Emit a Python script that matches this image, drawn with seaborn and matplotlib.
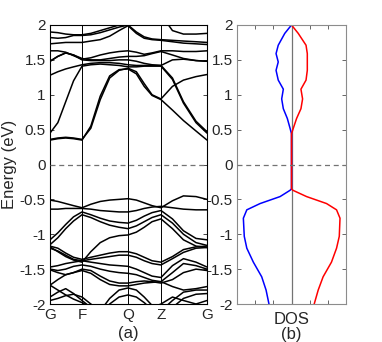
import numpy as np
import pandas as pd
import matplotlib
matplotlib.use("Agg")
import matplotlib.pyplot as plt
import seaborn as sns

# ---- k-path (fraction of path length) ----
k = [0.0, 0.05, 0.10, 0.15, 0.204, 0.26, 0.32, 0.38, 0.44, 0.497,
     0.55, 0.60, 0.65, 0.707, 0.78, 0.85, 0.93, 1.0]
k_nodes = [0.0, 0.204, 0.497, 0.707, 1.0]
k_labels = ["G", "F", "Q", "Z", "G"]

# ---- conduction bands (eV) ----
c1 = [0.35, 0.37, 0.38, 0.37, 0.35, 0.55, 0.98, 1.27, 1.36, 1.37, 1.30, 1.12, 0.99, 0.93, 0.78, 0.63, 0.48, 0.35]
c2 = [0.36, 0.38, 0.39, 0.38, 0.36, 0.52, 0.93, 1.24, 1.35, 1.38, 1.33, 1.16, 1.00, 0.94, 1.12, 1.21, 1.26, 1.29]
c3 = [0.45, 0.60, 0.90, 1.20, 1.41, 1.43, 1.44, 1.43, 1.42, 1.40, 1.40, 1.41, 1.41, 1.41, 1.22, 0.88, 0.60, 0.45]
c4 = [1.28, 1.33, 1.37, 1.40, 1.43, 1.45, 1.46, 1.46, 1.45, 1.43, 1.42, 1.42, 1.42, 1.42, 1.24, 0.90, 0.62, 0.47]
m1 = [1.63, 1.63, 1.61, 1.56, 1.51, 1.53, 1.57, 1.60, 1.62, 1.63, 1.61, 1.58, 1.60, 1.63, 1.63, 1.62, 1.62, 1.63]
m2 = [1.48, 1.55, 1.60, 1.57, 1.52, 1.50, 1.50, 1.52, 1.54, 1.55, 1.55, 1.56, 1.59, 1.62, 1.57, 1.52, 1.49, 1.48]
m3 = [1.48, 1.55, 1.60, 1.57, 1.50, 1.49, 1.49, 1.49, 1.50, 1.50, 1.48, 1.45, 1.43, 1.42, 1.50, 1.51, 1.49, 1.48]
u1 = [1.90, 1.89, 1.87, 1.86, 1.86, 1.88, 1.92, 1.96, 2.00, 2.03, 2.10, 2.20, 2.20, 2.15, 1.92, 1.87, 1.87, 1.88]
u2 = [1.82, 1.81, 1.82, 1.85, 1.85, 1.86, 1.89, 1.93, 1.97, 2.00, 1.90, 1.83, 1.80, 1.79, 1.78, 1.77, 1.76, 1.75]
u3 = [1.73, 1.74, 1.75, 1.75, 1.75, 1.77, 1.79, 1.84, 1.92, 1.99, 1.88, 1.81, 1.79, 1.78, 1.76, 1.74, 1.73, 1.72]

# ---- valence bands (eV) ----
v1 = [-0.51, -0.53, -0.56, -0.59, -0.62, -0.57, -0.53, -0.51, -0.50, -0.49, -0.51, -0.55, -0.59, -0.62, -0.52, -0.45, -0.46, -0.50]
v2 = [-0.64, -0.64, -0.63, -0.63, -0.63, -0.64, -0.66, -0.67, -0.68, -0.68, -0.66, -0.63, -0.61, -0.60, -0.62, -0.64, -0.65, -0.65]
v3 = [-1.08, -0.98, -0.86, -0.75, -0.68, -0.72, -0.77, -0.81, -0.83, -0.84, -0.80, -0.74, -0.69, -0.66, -0.78, -0.95, -1.06, -1.08]
v4 = [-1.15, -1.05, -0.92, -0.81, -0.72, -0.76, -0.82, -0.87, -0.90, -0.92, -0.88, -0.82, -0.76, -0.72, -0.84, -1.00, -1.12, -1.16]
v5 = [-1.18, -1.25, -1.32, -1.37, -1.40, -1.25, -1.12, -1.05, -1.02, -1.01, -0.97, -0.90, -0.82, -0.78, -0.92, -1.08, -1.17, -1.19]
v6 = [-1.17, -1.20, -1.27, -1.33, -1.36, -1.33, -1.30, -1.27, -1.25, -1.25, -1.28, -1.33, -1.38, -1.40, -1.32, -1.22, -1.18, -1.17]
v7 = [-1.20, -1.24, -1.30, -1.36, -1.38, -1.36, -1.34, -1.32, -1.30, -1.30, -1.33, -1.38, -1.42, -1.44, -1.35, -1.26, -1.20, -1.19]
v8 = [-1.47, -1.45, -1.42, -1.40, -1.38, -1.40, -1.42, -1.44, -1.45, -1.46, -1.50, -1.55, -1.60, -1.62, -1.45, -1.35, -1.40, -1.47]
v9 = [-1.50, -1.52, -1.50, -1.46, -1.44, -1.46, -1.50, -1.53, -1.55, -1.56, -1.58, -1.62, -1.66, -1.68, -1.55, -1.42, -1.45, -1.50]
v10 = [-1.51, -1.55, -1.58, -1.55, -1.50, -1.52, -1.60, -1.67, -1.70, -1.70, -1.68, -1.67, -1.68, -1.70, -1.65, -1.55, -1.50, -1.52]
v11 = [-1.73, -1.65, -1.58, -1.55, -1.52, -1.56, -1.65, -1.72, -1.74, -1.74, -1.72, -1.70, -1.69, -1.68, -1.75, -1.80, -1.78, -1.75]
v12 = [-1.73, -1.80, -1.87, -1.93, -1.98, -2.05, -2.10, -1.92, -1.80, -1.77, -1.80, -1.90, -2.02, -2.10, -1.95, -1.83, -1.80, -1.80]
v13 = [-1.90, -1.83, -1.78, -1.85, -1.95, -2.05, -2.15, -2.00, -1.90, -1.87, -1.90, -1.98, -2.08, -2.20, -2.05, -1.92, -1.86, -1.85]
v14 = [-1.95, -1.92, -1.88, -1.86, -1.90, -2.00, -2.10, -2.20, -2.25, -2.25, -2.20, -2.10, -2.05, -2.00, -1.90, -1.95, -2.00, -1.95]

bands = [c1, c2, c3, c4, m1, m2, m3, u1, u2, u3,
         v1, v2, v3, v4, v5, v6, v7, v8, v9, v10, v11, v12, v13, v14]

# ---- DOS (spin up = red, spin down = blue) ----
dos_E = [2.0, 1.88, 1.71, 1.59, 1.47, 1.35, 1.21, 1.08, 0.94, 0.80, 0.66, 0.52, 0.44,
         0.0, -0.35, -0.37, -0.46, -0.56, -0.65, -0.77, -1.03, -1.20, -1.40, -1.61, -1.80, -2.0]
dos_dn = [0.0, -0.37, -0.73, -0.85, -0.73, -0.85, -0.73, -0.45, -0.54, -0.45, -0.23, -0.08, 0.0,
          0.0, 0.0, -0.08, -0.63, -1.73, -2.46, -2.65, -2.60, -2.46, -2.10, -1.64, -1.40, -1.24]
dos_up = [0.0, 0.37, 0.80, 0.87, 0.87, 0.87, 0.80, 0.52, 0.61, 0.52, 0.28, 0.10, 0.0,
          0.0, 0.0, 0.08, 0.83, 1.93, 2.48, 2.67, 2.63, 2.48, 2.20, 1.74, 1.47, 1.25]

e_ticks = [2, 1.5, 1, 0.5, 0, -0.5, -1, -1.5, -2]
e_ticklabels = ["2", "1.5", "1", "0.5", "0", "-0.5", "-1", "-1.5", "-2"]

sns.set_theme(style="white")
plt.rcParams["font.family"] = ["Liberation Sans", "DejaVu Sans"]
plt.rcParams["font.size"] = 7.5

fig = plt.figure(figsize=(3.82, 3.42), dpi=100)
ax1 = fig.add_axes([50 / 382, 38 / 342, 157 / 382, 279 / 342])
ax2 = fig.add_axes([237 / 382, 38 / 342, 109 / 382, 279 / 342])

rows = []
for i, b in enumerate(bands):
    for kk, e in zip(k, b):
        rows.append((i, kk, e))
df = pd.DataFrame(rows, columns=["band", "k", "E"])

sns.lineplot(data=df, x="k", y="E", units="band", estimator=None, sort=False,
             color="black", linewidth=1.1, ax=ax1, legend=False)
for xn in k_nodes[1:-1]:
    ax1.axvline(xn, color="black", linewidth=0.7, zorder=1)
ax1.axhline(0, color="0.45", linewidth=0.9, linestyle=(0, (4, 3)), zorder=3)
ax1.set_xlim(0, 1)
ax1.set_ylim(-2, 2)
ax1.set_xticks(k_nodes)
ax1.set_xticklabels(k_labels)
ax1.set_yticks(e_ticks)
ax1.set_yticklabels(e_ticklabels)
ax1.set_xlabel("(a)", labelpad=3)
ax1.set_ylabel("Energy (eV)", labelpad=2)
ax1.tick_params(axis="y", direction="in", length=3, left=True, right=True, width=0.6, pad=3)
ax1.tick_params(axis="x", length=0, pad=3)
for s in ax1.spines.values():
    s.set_color("black")
    s.set_linewidth(0.8)

sns.lineplot(x=dos_dn, y=dos_E, sort=False, estimator=None, color="blue", linewidth=1.1, ax=ax2)
sns.lineplot(x=dos_up, y=dos_E, sort=False, estimator=None, color="red", linewidth=1.1, ax=ax2)
ax2.axvline(0, color="0.45", linewidth=0.9, zorder=1)
ax2.axhline(0, color="0.45", linewidth=0.9, linestyle=(0, (4, 3)), zorder=3)
ax2.set_xlim(-3, 3)
ax2.set_ylim(-2, 2)
ax2.set_xticks([-2, -1, 0, 1, 2])
ax2.set_xticklabels([])
ax2.set_yticks(e_ticks)
ax2.set_yticklabels(e_ticklabels)
ax2.set_xlabel("DOS\n(b)", labelpad=3, linespacing=1.0)
ax2.set_ylabel("")
ax2.tick_params(axis="both", direction="in", length=3, left=True, right=True,
                top=True, bottom=True, width=0.6, pad=3, color="0.3")
for s in ax2.spines.values():
    s.set_color("0.55")
    s.set_linewidth(0.8)

fig.savefig("out.png", dpi=100)
